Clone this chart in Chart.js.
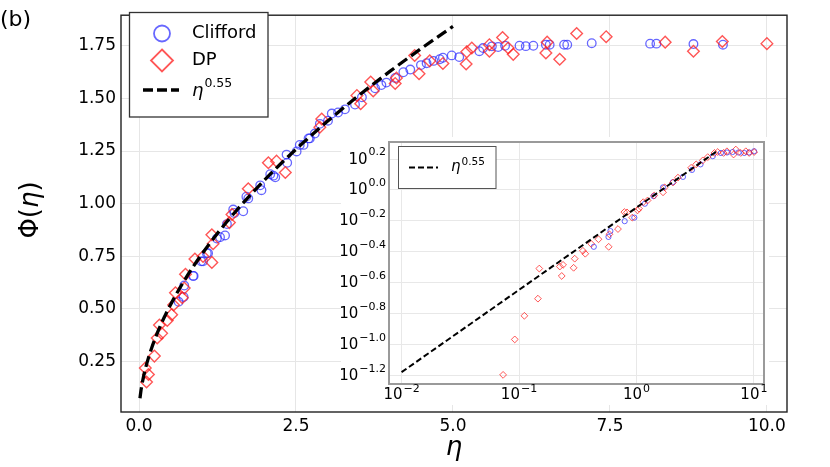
<!DOCTYPE html>
<html>
<head>
<meta charset="utf-8">
<script src="https://cdn.jsdelivr.net/npm/chart.js@4.4.1/dist/chart.umd.min.js"></script>
<style>
html,body{margin:0;padding:0;background:#fff;}
#wrap{position:relative;width:830px;height:467px;overflow:hidden;}
#main{position:absolute;left:0;top:0;width:830px;height:467px;}
#inset{position:absolute;left:341px;top:137px;width:428px;height:268px;}
</style>
</head>
<body>
<div id="wrap">
<canvas id="main" width="830" height="467"></canvas>
<canvas id="inset" width="428" height="268"></canvas>
</div>
<script>
// ---------- main panel data ----------
const etaClifford = [0.63,0.71,0.72,0.86,0.87,0.99,1.02,1.08,1.10,1.24,1.29,1.37,1.40,1.50,1.52,1.66,1.71,1.74,1.93,1.95,2.09,2.14,2.17,2.35,2.36,2.51,2.56,2.62,2.70,2.72,2.80,2.88,3.01,3.07,3.17,3.28,3.44,3.55,3.76,3.86,3.94,4.08,4.21,4.32,4.49,4.58,4.69,4.79,4.84,4.98,5.10,5.42,5.48,5.62,5.72,5.83,6.06,6.16,6.28,6.48,6.54,6.77,6.82,7.21,8.14,8.24,8.83,9.30];
const phiClifford = [0.534,0.557,0.611,0.657,0.657,0.726,0.726,0.765,0.765,0.834,0.841,0.849,0.903,0.972,0.956,0.964,1.033,1.025,1.087,1.064,1.14,1.133,1.125,1.233,1.194,1.248,1.279,1.279,1.31,1.31,1.333,1.379,1.394,1.428,1.433,1.448,1.471,1.505,1.548,1.563,1.575,1.597,1.624,1.637,1.658,1.667,1.678,1.686,1.693,1.704,1.696,1.724,1.739,1.747,1.744,1.75,1.75,1.748,1.75,1.755,1.755,1.755,1.755,1.762,1.76,1.76,1.758,1.755];

const etaDP = [0.10,0.12,0.15,0.245,0.29,0.325,0.36,0.45,0.52,0.55,0.58,0.69,0.72,0.74,0.89,1.02,1.16,1.16,1.18,1.44,1.48,1.74,2.06,2.19,2.33,2.88,2.91,3.47,3.53,3.69,3.73,4.08,4.10,4.39,4.46,4.63,4.84,5.21,5.22,5.30,5.58,5.58,5.79,5.88,5.96,6.48,6.50,6.70,6.97,7.44,8.38,8.83,9.29,10.0];
const phiDP = [0.219,0.153,0.189,0.276,0.362,0.424,0.384,0.445,0.473,0.519,0.577,0.553,0.599,0.665,0.737,0.749,0.721,0.852,0.81,0.91,0.949,1.071,1.194,1.202,1.148,1.363,1.402,1.514,1.475,1.578,1.535,1.571,1.597,1.704,1.617,1.678,1.666,1.663,1.721,1.739,1.755,1.724,1.789,1.739,1.709,1.716,1.767,1.686,1.808,1.793,1.767,1.724,1.77,1.76];

// dashed power-law guide
const etaFit = [0.015,0.03,0.05,0.1,0.15,0.2,0.3,0.4,0.5,0.75,1,1.25,1.5,2,2.5,3,3.5,4,4.5,5];
const phiFit = [0.0755,0.1105,0.1463,0.2142,0.2677,0.3136,0.3919,0.4591,0.5191,0.6488,0.76,0.8593,0.9498,1.1127,1.258,1.3908,1.5138,1.6291,1.738,1.8418];

const xTicks = [0, 2.5, 5, 7.5, 10];
const yTicks = [0.25, 0.5, 0.75, 1.0, 1.25, 1.5, 1.75];

// ---------- inset (log-log) data ----------
const insetEtaDP = [0.0732,0.0920,0.1111,0.1449,0.1488,0.2226,0.2311,0.2371,0.2917,0.2980,0.3498,0.3667,0.4115,0.4751,0.5803,0.5886,0.6962,0.7885,0.8304,0.9211,1.0217,1.0510,1.1412,1.2426,1.4146,1.6836,1.7403,2.0477,2.2549,2.9215,3.2254,3.6717,4.0449,4.6142,4.9183,5.5208,5.8937,6.7114,7.0178,7.7304,8.5348,9.1180,10.04];
const insetPhiDP = [0.0634,0.1076,0.1531,0.1977,0.3097,0.3192,0.2773,0.3273,0.3133,0.3589,0.4036,0.3864,0.4477,0.4797,0.4285,0.5164,0.5585,0.7194,0.7161,0.6622,0.7379,0.7568,0.8337,0.8551,0.9204,0.9661,1.040,1.119,1.202,1.393,1.466,1.556,1.633,1.738,1.762,1.738,1.782,1.698,1.828,1.738,1.782,1.738,1.762];
const insetEtaCl = [0.4333,0.5776,0.5999,0.7941,0.9588,1.1796,1.3979,1.6836,2.0378,2.4889,2.9709,3.5123,4.4649,5.2421,5.9,6.5859,7.4,8.2774,9.1,10.04];
const insetPhiCl = [0.4285,0.4966,0.5420,0.6281,0.6622,0.8147,0.912,1.040,1.122,1.216,1.349,1.466,1.656,1.738,1.75,1.762,1.75,1.738,1.75,1.782];
const insetEtaFit = [0.01, 4.75];
const insetPhiFit = [0.066, 1.766];
const insetXTickExp = [-2, -1, 0, 1];
const insetYTickExp = [-1.2, -1.0, -0.8, -0.6, -0.4, -0.2, 0.0, 0.2];

// ---------- helpers ----------
const FONT = "'DejaVu Sans', 'Liberation Sans', sans-serif";
const toPts = (xs, ys) => xs.map((x, i) => ({x: x, y: ys[i]}));
const BLUE = 'rgba(45,45,255,0.72)';
const RED = 'rgba(255,30,30,0.75)';

function powLabel(ctx, base, exp, x, y, align, baseFont, expFont, raise, italicBase) {
  ctx.save();
  ctx.fillStyle = '#000';
  ctx.textBaseline = 'middle';
  ctx.textAlign = 'left';
  ctx.font = baseFont;
  const wb = ctx.measureText(base).width;
  ctx.font = expFont;
  const we = ctx.measureText(exp).width;
  let x0 = align === 'right' ? x - wb - we - 1 : (align === 'center' ? x - (wb + we + 1) / 2 : x);
  ctx.font = baseFont;
  ctx.fillText(base, x0, y);
  ctx.font = expFont;
  ctx.fillText(exp, x0 + wb + 1, y - raise);
  ctx.restore();
}
const fmtExp = e => (e < 0 ? '\u2212' : '') + Math.abs(e).toFixed(1);

// ---------- main chart ----------
const mainDecor = {
  id: 'mainDecor',
  afterDraw(chart) {
    const ctx = chart.ctx, a = chart.chartArea;
    ctx.save();
    // frame
    ctx.strokeStyle = '#222';
    ctx.lineWidth = 1.4;
    ctx.strokeRect(a.left, a.top, a.right - a.left, a.bottom - a.top);
    // panel tag
    ctx.fillStyle = '#000';
    ctx.font = '22px ' + FONT;
    ctx.textAlign = 'left';
    ctx.textBaseline = 'middle';
    ctx.fillText('(b)', 0, 20);
    // x title
    ctx.font = 'italic 26px ' + FONT;
    ctx.textAlign = 'center';
    ctx.fillText('\u03B7', 454, 448);
    // y title  Φ(η)
    ctx.save();
    ctx.translate(31, 210);
    ctx.rotate(-Math.PI / 2);
    ctx.textBaseline = 'middle';
    ctx.textAlign = 'left';
    const p1 = '\u03A6(', p2 = '\u03B7', p3 = ')';
    ctx.font = '26px ' + FONT; const w1 = ctx.measureText(p1).width;
    ctx.font = 'italic 26px ' + FONT; const w2 = ctx.measureText(p2).width;
    ctx.font = '26px ' + FONT; const w3 = ctx.measureText(p3).width;
    let sx = -(w1 + w2 + w3) / 2;
    ctx.font = '26px ' + FONT; ctx.fillText(p1, sx, 0);
    ctx.font = 'italic 26px ' + FONT; ctx.fillText(p2, sx + w1, 0);
    ctx.font = '26px ' + FONT; ctx.fillText(p3, sx + w1 + w2, 0);
    ctx.restore();
    // legend
    ctx.fillStyle = '#fff';
    ctx.fillRect(129, 12, 139, 105);
    ctx.strokeStyle = '#333';
    ctx.lineWidth = 1.3;
    ctx.strokeRect(129.5, 12.5, 138.5, 104.5);
    // Clifford marker
    ctx.strokeStyle = BLUE;
    ctx.lineWidth = 1.8;
    ctx.beginPath(); ctx.arc(162, 33.5, 8, 0, Math.PI * 2); ctx.stroke();
    // DP marker
    ctx.strokeStyle = RED;
    ctx.beginPath();
    ctx.moveTo(162, 49.5); ctx.lineTo(173, 60.5); ctx.lineTo(162, 71.5); ctx.lineTo(151, 60.5); ctx.closePath();
    ctx.stroke();
    // fit line sample
    ctx.strokeStyle = '#000';
    ctx.lineWidth = 3.3;
    ctx.setLineDash([10, 4]);
    ctx.beginPath(); ctx.moveTo(143, 90); ctx.lineTo(179, 90); ctx.stroke();
    ctx.setLineDash([]);
    ctx.fillStyle = '#000';
    ctx.font = '18px ' + FONT;
    ctx.textAlign = 'left';
    ctx.textBaseline = 'middle';
    ctx.fillText('Clifford', 192, 33.5);
    ctx.fillText('DP', 192, 60.5);
    powLabel(ctx, '\u03B7', '0.55', 192, 91, 'left', 'italic 18px ' + FONT, '12.5px ' + FONT, 7);
    ctx.restore();
  }
};

new Chart(document.getElementById('main'), {
  type: 'scatter',
  data: {
    datasets: [
      {
        type: 'line', label: 'eta^0.55', data: toPts(etaFit, phiFit),
        borderColor: '#000', borderWidth: 3.3, borderDash: [11, 5],
        pointRadius: 0, fill: false, cubicInterpolationMode: 'monotone'
      },
      {
        label: 'DP', data: toPts(etaDP, phiDP), pointStyle: 'rectRot',
        pointRadius: 5.8, pointBorderColor: RED, pointBackgroundColor: 'rgba(0,0,0,0)',
        pointBorderWidth: 1.4, borderColor: RED, backgroundColor: 'rgba(0,0,0,0)'
      },
      {
        label: 'Clifford', data: toPts(etaClifford, phiClifford), pointStyle: 'circle',
        pointRadius: 4.3, pointBorderColor: BLUE, pointBackgroundColor: 'rgba(0,0,0,0)',
        pointBorderWidth: 1.3, borderColor: BLUE, backgroundColor: 'rgba(0,0,0,0)'
      }
    ]
  },
  options: {
    responsive: false,
    animation: false,
    layout: {padding: {left: 0, top: 3, right: 43, bottom: 0}},
    plugins: {legend: {display: false}, tooltip: {enabled: false}},
    scales: {
      x: {
        type: 'linear', min: -0.287, max: 10.32,
        afterFit: s => { s.height = 55; },
        afterBuildTicks: s => { s.ticks = xTicks.map(v => ({value: v})); },
        ticks: {callback: v => Number(v).toFixed(1), font: {family: FONT, size: 17}, color: '#000', padding: 4, maxRotation: 0, autoSkip: false},
        grid: {color: '#e6e6e6', drawTicks: false, lineWidth: 1},
        border: {display: false}
      },
      y: {
        type: 'linear', min: 0.0106, max: 1.895,
        afterFit: s => { s.width = 121; },
        afterBuildTicks: s => { s.ticks = yTicks.map(v => ({value: v})); },
        ticks: {callback: v => Number(v).toFixed(2), font: {family: FONT, size: 17}, color: '#000', padding: 5, autoSkip: false},
        grid: {color: '#e6e6e6', drawTicks: false, lineWidth: 1},
        border: {display: false}
      }
    }
  },
  plugins: [mainDecor]
});

// ---------- inset chart ----------
const insetDecor = {
  id: 'insetDecor',
  beforeDraw(chart) {
    const ctx = chart.ctx;
    ctx.save();
    ctx.fillStyle = '#fff';
    ctx.fillRect(0, 0, chart.width, chart.height);
    ctx.restore();
  },
  afterDraw(chart) {
    const ctx = chart.ctx, a = chart.chartArea;
    const xs = chart.scales.x, ys = chart.scales.y;
    ctx.save();
    ctx.strokeStyle = '#9a9a9a';
    ctx.lineWidth = 2;
    ctx.strokeRect(a.left, a.top, a.right - a.left, a.bottom - a.top);
    // y tick labels
    insetYTickExp.forEach(e => {
      const y = ys.getPixelForValue(Math.pow(10, e));
      powLabel(ctx, '10', fmtExp(e), 45, y + 0.5, 'right', '15px ' + FONT, '11px ' + FONT, 7);
    });
    // x tick labels
    insetXTickExp.forEach(e => {
      const x = xs.getPixelForValue(Math.pow(10, e));
      const lab = (e < 0 ? '\u2212' : '') + Math.abs(e);
      powLabel(ctx, '10', lab, x, 258, 'center', '15px ' + FONT, '11px ' + FONT, 6);
    });
    // legend
    ctx.fillStyle = '#fff';
    ctx.fillRect(57, 9, 98, 43);
    ctx.strokeStyle = '#555';
    ctx.lineWidth = 1;
    ctx.strokeRect(57.5, 9.5, 97.5, 42);
    ctx.strokeStyle = '#000';
    ctx.lineWidth = 2;
    ctx.setLineDash([6, 3]);
    ctx.beginPath(); ctx.moveTo(68, 30.5); ctx.lineTo(97, 30.5); ctx.stroke();
    ctx.setLineDash([]);
    powLabel(ctx, '\u03B7', '0.55', 110, 30, 'left', 'italic 15px ' + FONT, '10.5px ' + FONT, 5);
    ctx.restore();
  }
};

new Chart(document.getElementById('inset'), {
  type: 'scatter',
  data: {
    datasets: [
      {
        type: 'line', label: 'eta^0.55', data: toPts(insetEtaFit, insetPhiFit),
        borderColor: '#000', borderWidth: 2, borderDash: [6, 3], pointRadius: 0, fill: false
      },
      {
        label: 'DP', data: toPts(insetEtaDP, insetPhiDP), pointStyle: 'rectRot',
        pointRadius: 3.4, pointBorderColor: RED, pointBackgroundColor: 'rgba(0,0,0,0)',
        pointBorderWidth: 1, borderColor: RED, backgroundColor: 'rgba(0,0,0,0)'
      },
      {
        label: 'Clifford', data: toPts(insetEtaCl, insetPhiCl), pointStyle: 'circle',
        pointRadius: 2.6, pointBorderColor: BLUE, pointBackgroundColor: 'rgba(0,0,0,0)',
        pointBorderWidth: 1, borderColor: BLUE, backgroundColor: 'rgba(0,0,0,0)'
      }
    ]
  },
  options: {
    responsive: false,
    animation: false,
    layout: {padding: {left: 0, top: 1, right: 2, bottom: 0}},
    plugins: {legend: {display: false}, tooltip: {enabled: false}},
    scales: {
      x: {
        type: 'logarithmic', min: Math.pow(10, -2.107), max: Math.pow(10, 1.086),
        afterFit: s => { s.height = 21; },
        afterBuildTicks: s => { s.ticks = insetXTickExp.map(e => ({value: Math.pow(10, e)})); },
        ticks: {display: false},
        grid: {color: '#e8e8e8', drawTicks: false},
        border: {display: false}
      },
      y: {
        type: 'logarithmic', min: Math.pow(10, -1.257), max: Math.pow(10, 0.311),
        afterFit: s => { s.width = 48; },
        afterBuildTicks: s => { s.ticks = insetYTickExp.map(e => ({value: Math.pow(10, e)})); },
        ticks: {display: false},
        grid: {color: '#e8e8e8', drawTicks: false},
        border: {display: false}
      }
    }
  },
  plugins: [insetDecor]
});
</script>
</body>
</html>
